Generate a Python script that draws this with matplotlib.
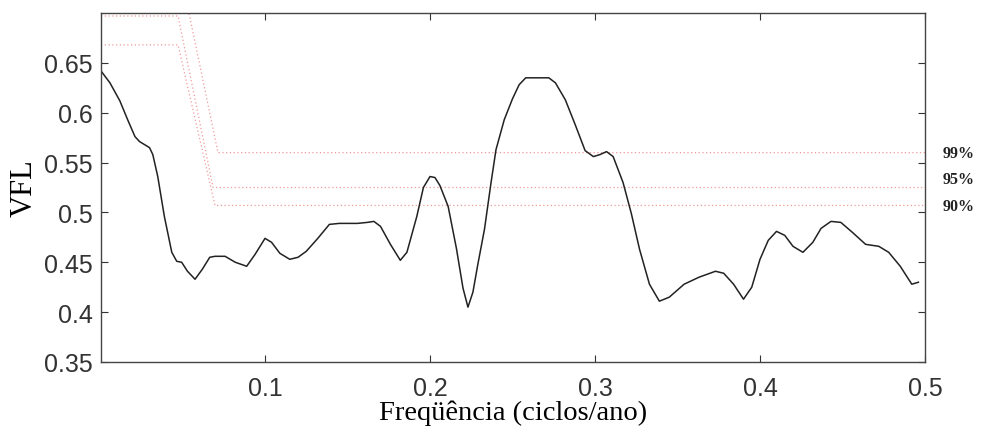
import matplotlib
matplotlib.use("Agg")
import matplotlib.pyplot as plt

# VFL spectrum (frequency in cycles/year, value)
freq = [0.001, 0.006, 0.012, 0.017, 0.0212, 0.024, 0.027, 0.030, 0.032, 0.035, 0.039,
        0.0435, 0.0465, 0.0495, 0.053, 0.0576, 0.062, 0.0665, 0.0697, 0.0758, 0.082,
        0.0889, 0.094, 0.100, 0.104, 0.109, 0.115, 0.120, 0.125, 0.132, 0.139, 0.145,
        0.156, 0.162, 0.166, 0.170, 0.176, 0.182, 0.186, 0.192, 0.196, 0.200, 0.203,
        0.206, 0.211, 0.216, 0.220, 0.223, 0.226, 0.229, 0.233, 0.237, 0.240, 0.245,
        0.250, 0.254, 0.258, 0.265, 0.272, 0.276, 0.282, 0.288, 0.294, 0.299, 0.303,
        0.307, 0.311, 0.317, 0.322, 0.327, 0.333, 0.339, 0.345, 0.354, 0.363, 0.373,
        0.378, 0.384, 0.390, 0.395, 0.400, 0.405, 0.410, 0.415, 0.420, 0.426, 0.432,
        0.437, 0.443, 0.449, 0.456, 0.464, 0.472, 0.478, 0.485, 0.492, 0.496]
vfl = [0.641, 0.630, 0.612, 0.592, 0.576, 0.571, 0.568, 0.565, 0.558, 0.536, 0.496,
       0.460, 0.451, 0.450, 0.441, 0.433, 0.443, 0.455, 0.456, 0.456, 0.450,
       0.446, 0.458, 0.474, 0.470, 0.459, 0.453, 0.455, 0.461, 0.474, 0.488, 0.489,
       0.489, 0.490, 0.491, 0.486, 0.468, 0.452, 0.460, 0.496, 0.525, 0.536, 0.535,
       0.527, 0.506, 0.464, 0.424, 0.405, 0.420, 0.448, 0.483, 0.530, 0.563, 0.593,
       0.614, 0.628, 0.635, 0.635, 0.635, 0.630, 0.613, 0.588, 0.562, 0.556, 0.558,
       0.561, 0.556, 0.530, 0.499, 0.463, 0.428, 0.411, 0.415, 0.428, 0.435, 0.441,
       0.439, 0.428, 0.413, 0.425, 0.453, 0.472, 0.481, 0.477, 0.466, 0.460, 0.470,
       0.484, 0.491, 0.490, 0.480, 0.468, 0.466, 0.460, 0.446, 0.428, 0.430]

# Significance thresholds (piecewise lines)
sig_labels = ["99%", "95%", "90%"]
sig_freq = [
    [0.0006, 0.047, 0.0715, 0.5],
    [0.0006, 0.0473, 0.0685, 0.5],
    [0.0006, 0.0473, 0.0697, 0.5],
]
sig_vals = [
    [0.755, 0.755, 0.560, 0.560],
    [0.697, 0.697, 0.525, 0.525],
    [0.668, 0.668, 0.507, 0.507],
]
label_vals = [0.560, 0.534, 0.506]

xticks = [0.1, 0.2, 0.3, 0.4, 0.5]
yticks = [0.35, 0.4, 0.45, 0.5, 0.55, 0.6, 0.65]
ytick_labels = ["0.35", "0.4", "0.45", "0.5", "0.55", "0.6", "0.65"]

fig = plt.figure(figsize=(9.83, 4.35), dpi=100)
ax = fig.add_axes([101 / 983, 72 / 435, 824 / 983, 349 / 435])

for fx, fy in zip(sig_freq, sig_vals):
    ax.plot(fx, fy, linestyle=(0, (1, 2)), color="#f29a9a", linewidth=0.9)
ax.plot(freq, vfl, color="#222222", linewidth=1.1)

ax.set_xlim(0.0006, 0.5)
ax.set_ylim(0.35, 0.70)
ax.set_xticks(xticks)
ax.set_xticklabels([str(t) for t in xticks])
ax.set_yticks(yticks)
ax.set_yticklabels(ytick_labels)
ax.tick_params(direction="in", length=5, width=0.8, top=True, right=True,
               labelsize=18, colors="#333333")
ax.tick_params(axis="x", pad=10)
ax.tick_params(axis="y", pad=6)
for lab in ax.get_xticklabels() + ax.get_yticklabels():
    lab.set_fontfamily("Liberation Sans")
for s in ax.spines.values():
    s.set_color("#444444")
    s.set_linewidth(1.0)

ax.set_xlabel("Freqüência (ciclos/ano)", fontfamily="Liberation Serif", fontsize=20.5,
              labelpad=0)
ax.set_ylabel("VFL", fontfamily="Liberation Serif", fontsize=22, labelpad=4)

for lab, v in zip(sig_labels, label_vals):
    ax.text(1.0218, v, lab, transform=ax.get_yaxis_transform(), fontsize=11.5,
            fontweight="bold", fontfamily="Liberation Serif", va="center", ha="left",
            color="#222222")

fig.savefig("out.png", dpi=100)
